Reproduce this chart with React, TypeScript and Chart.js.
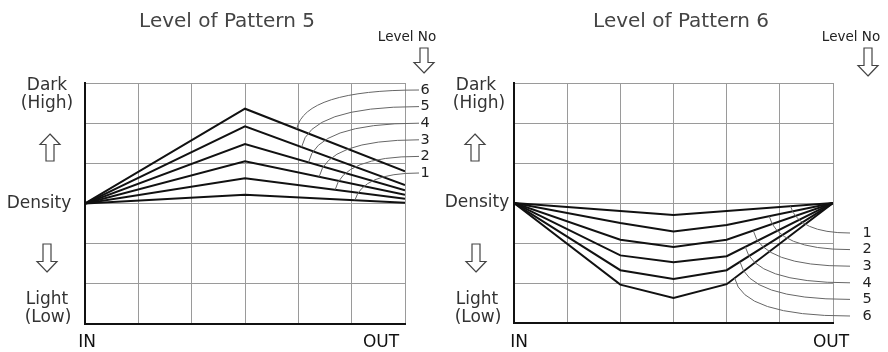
import React, { useEffect, useRef } from "react";
import { Chart, registerables } from "chart.js";
Chart.register(...registerables);

// ---------- data ----------
const LEVEL_NAMES = ["1", "2", "3", "4", "5", "6"];
const X_END_LABELS = ["IN", "OUT"];
const SIDE_TEXT = ["Dark", "(High)", "Density", "Light", "(Low)"];
const LEVEL_HEADER = "Level No";

// Pattern 5: density rises to a peak in the middle
const P5_TITLE = "Level of Pattern 5";
const P5_X = [0, 3, 6];
const P5_LEVEL1 = [0, 0.22, 0.02];
const P5_LEVEL2 = [0, 0.63, 0.12];
const P5_LEVEL3 = [0, 1.05, 0.22];
const P5_LEVEL4 = [0, 1.48, 0.33];
const P5_LEVEL5 = [0, 1.92, 0.46];
const P5_LEVEL6 = [0, 2.36, 0.8];
const P5_CALLOUT_AT = [5.06, 4.69, 4.39, 4.19, 4.06, 3.97];

// Pattern 6: density dips in the middle
const P6_TITLE = "Level of Pattern 6";
const P6_X = [0, 2, 3, 4, 6];
const P6_LEVEL1 = [0, -0.2, -0.3, -0.2, 0];
const P6_LEVEL2 = [0, -0.5, -0.71, -0.55, 0];
const P6_LEVEL3 = [0, -0.92, -1.1, -0.92, 0];
const P6_LEVEL4 = [0, -1.31, -1.48, -1.33, 0];
const P6_LEVEL5 = [0, -1.68, -1.9, -1.68, 0];
const P6_LEVEL6 = [0, -2.04, -2.375, -2.03, 0];
const P6_CALLOUT_AT = [5.2, 4.8, 4.5, 4.35, 4.25, 4.15];

const X_MIN = 0;
const X_MAX = 6;
const Y_MIN = -3;
const Y_MAX = 3;

const FONT = "'DejaVu Sans', sans-serif";

function valueAt(xs: number[], ys: number[], x: number): number {
  for (let i = 0; i < xs.length - 1; i++) {
    if (x >= xs[i] && x <= xs[i + 1]) {
      const t = (x - xs[i]) / (xs[i + 1] - xs[i]);
      return ys[i] + t * (ys[i + 1] - ys[i]);
    }
  }
  return ys[ys.length - 1];
}

function hollowArrow(ctx: CanvasRenderingContext2D, cx: number, top: number, bottom: number, up: boolean) {
  const headW = 20;
  const headH = 10.5;
  const shaftW = 8;
  ctx.save();
  ctx.beginPath();
  if (up) {
    ctx.moveTo(cx, top);
    ctx.lineTo(cx + headW / 2, top + headH);
    ctx.lineTo(cx + shaftW / 2, top + headH);
    ctx.lineTo(cx + shaftW / 2, bottom);
    ctx.lineTo(cx - shaftW / 2, bottom);
    ctx.lineTo(cx - shaftW / 2, top + headH);
    ctx.lineTo(cx - headW / 2, top + headH);
  } else {
    ctx.moveTo(cx, bottom);
    ctx.lineTo(cx + headW / 2, bottom - headH);
    ctx.lineTo(cx + shaftW / 2, bottom - headH);
    ctx.lineTo(cx + shaftW / 2, top);
    ctx.lineTo(cx - shaftW / 2, top);
    ctx.lineTo(cx - shaftW / 2, bottom - headH);
    ctx.lineTo(cx - headW / 2, bottom - headH);
  }
  ctx.closePath();
  ctx.fillStyle = "#fff";
  ctx.fill();
  ctx.strokeStyle = "#444";
  ctx.lineWidth = 1.2;
  ctx.stroke();
  ctx.restore();
}

type Deco = {
  title: string;
  titleX: number;
  levelNoX: number;
  levelArrowX: number;
  levelArrowBottom: number;
  sideX: number[]; // Dark, (High), arrowUp, Density, arrowDown, Light, (Low)
  inX: number;
  outX: number;
  calloutAt: number[];
  labelX: number;
  labelY0: number;
  leaderStartX: number;
  descending: boolean;
};

function makeChart(canvas: HTMLCanvasElement, xs: number[], series: number[][], deco: Deco, padding: any) {
  const datasets = series.map((ys, i) => ({
    label: LEVEL_NAMES[i],
    data: xs.map((x, j) => ({ x, y: ys[j] })),
    borderColor: "#111",
    borderWidth: 2,
    pointRadius: 0,
    tension: 0,
    fill: false,
  }));

  const decoPlugin = {
    id: "deco",
    afterDraw(chart: any) {
      const ctx: any = chart.ctx;
      const xs_ = chart.scales.x;
      const ys_ = chart.scales.y;
      ctx.save();
      ctx.textBaseline = "middle";
      ctx.textAlign = "center";

      // title
      ctx.fillStyle = "#444";
      ctx.font = `20px ${FONT}`;
      ctx.fillText(deco.title, deco.titleX, 22);

      // Level No
      ctx.fillStyle = "#222";
      ctx.font = `13.5px ${FONT}`;
      ctx.fillText(LEVEL_HEADER, deco.levelNoX, 37);
      hollowArrow(ctx, deco.levelArrowX, 48, deco.levelArrowBottom, false);

      // side labels
      ctx.fillStyle = "#333";
      ctx.font = `17px ${FONT}`;
      ctx.fillText(SIDE_TEXT[0], deco.sideX[0], 86);
      ctx.fillText(SIDE_TEXT[1], deco.sideX[1], 104);
      hollowArrow(ctx, deco.sideX[2], 134, 161, true);
      ctx.fillText(SIDE_TEXT[2], deco.sideX[3], ys_.getPixelForValue(0));
      hollowArrow(ctx, deco.sideX[4], 244, 272, false);
      ctx.fillText(SIDE_TEXT[3], deco.sideX[5], 300);
      ctx.fillText(SIDE_TEXT[4], deco.sideX[6], 318);

      // IN / OUT
      ctx.fillStyle = "#111";
      ctx.font = `17px ${FONT}`;
      ctx.fillText(X_END_LABELS[0], xs_.getPixelForValue(X_MIN) + deco.inX, 343);
      ctx.fillText(X_END_LABELS[1], xs_.getPixelForValue(X_MAX) + deco.outX, 343);

      // callouts
      ctx.font = `14.5px ${FONT}`;
      ctx.fillStyle = "#222";
      ctx.strokeStyle = "#666";
      ctx.lineWidth = 1;
      const n = series.length;
      for (let i = 0; i < n; i++) {
        const row = deco.descending ? n - 1 - i : i;
        const ly = deco.labelY0 + row * 16.6;
        const tx = xs_.getPixelForValue(deco.calloutAt[i]);
        const ty = ys_.getPixelForValue(valueAt(xs, series[i], deco.calloutAt[i]));
        ctx.beginPath();
        ctx.moveTo(deco.leaderStartX, ly);
        ctx.quadraticCurveTo(tx + 8, ly, tx, ty);
        ctx.stroke();
        ctx.fillText(LEVEL_NAMES[i], deco.labelX, ly);
      }
      ctx.restore();
    },
  };

  return new Chart(canvas, {
    type: "line",
    data: { datasets },
    options: {
      animation: false,
      responsive: false,
      maintainAspectRatio: false,
      layout: { padding },
      plugins: { legend: { display: false }, tooltip: { enabled: false }, title: { display: false } },
      scales: {
        x: {
          type: "linear",
          min: X_MIN,
          max: X_MAX,
          ticks: { display: false, stepSize: 1 },
          grid: { color: "#9a9a9a", lineWidth: 1, drawTicks: false },
          border: { display: true, color: "#111", width: 2 },
        },
        y: {
          type: "linear",
          min: Y_MIN,
          max: Y_MAX,
          ticks: { display: false, stepSize: 1 },
          grid: { color: "#9a9a9a", lineWidth: 1, drawTicks: false },
          border: { display: true, color: "#111", width: 2 },
        },
      },
    },
    plugins: [decoPlugin],
  } as any);
}

export default function App() {
  const leftRef = useRef<HTMLCanvasElement>(null);
  const rightRef = useRef<HTMLCanvasElement>(null);

  useEffect(() => {
    document.body.style.margin = "0";
    const c1 = makeChart(
      leftRef.current!,
      P5_X,
      [P5_LEVEL1, P5_LEVEL2, P5_LEVEL3, P5_LEVEL4, P5_LEVEL5, P5_LEVEL6],
      {
        title: P5_TITLE,
        titleX: 227,
        levelNoX: 407,
        levelArrowX: 424,
        levelArrowBottom: 73,
        sideX: [47, 47, 50, 39, 47, 47, 48],
        inX: 2,
        outX: -24,
        calloutAt: P5_CALLOUT_AT,
        labelX: 425,
        labelY0: 90,
        leaderStartX: 419,
        descending: true,
      },
      { left: 85, right: 39, top: 83, bottom: 28 }
    );
    const c2 = makeChart(
      rightRef.current!,
      P6_X,
      [P6_LEVEL1, P6_LEVEL2, P6_LEVEL3, P6_LEVEL4, P6_LEVEL5, P6_LEVEL6],
      {
        title: P6_TITLE,
        titleX: 237,
        levelNoX: 407,
        levelArrowX: 424,
        levelArrowBottom: 76,
        sideX: [32, 35, 31, 33, 32, 33, 34],
        inX: 5,
        outX: -2,
        calloutAt: P6_CALLOUT_AT,
        labelX: 423,
        labelY0: 233,
        leaderStartX: 406,
        descending: false,
      },
      { left: 70, right: 55, top: 83, bottom: 29 }
    );
    return () => {
      c1.destroy();
      c2.destroy();
    };
  }, []);

  return (
    <div style={{ position: "absolute", left: 0, top: 0, width: 888, height: 352, background: "#fff" }}>
      <canvas ref={leftRef} width={444} height={352} style={{ position: "absolute", left: 0, top: 0, width: 444, height: 352 }} />
      <canvas ref={rightRef} width={444} height={352} style={{ position: "absolute", left: 444, top: 0, width: 444, height: 352 }} />
    </div>
  );
}
